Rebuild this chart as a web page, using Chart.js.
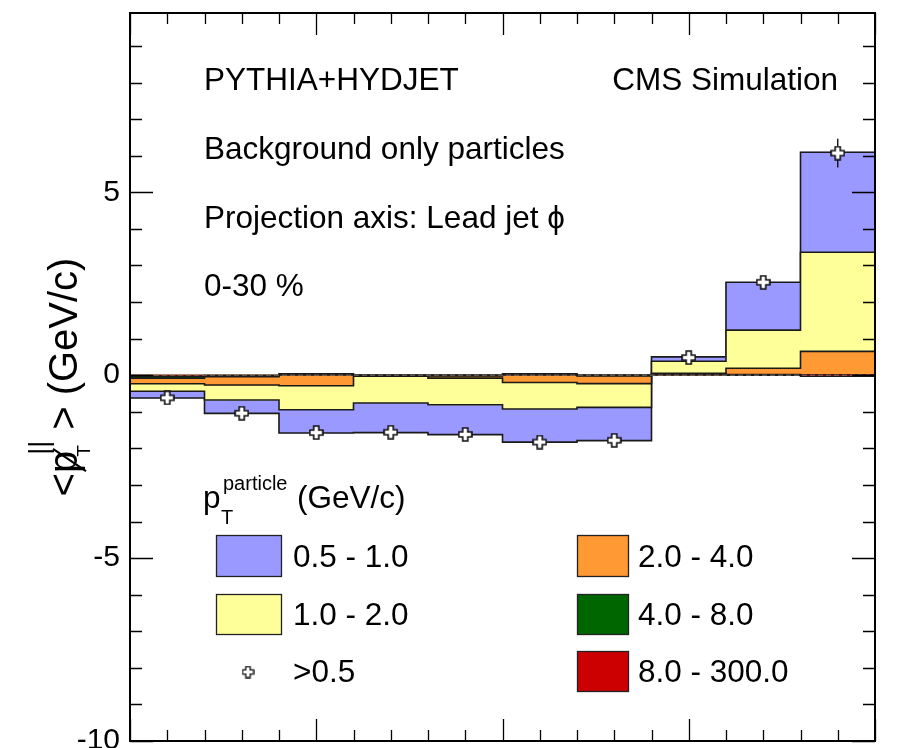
<!DOCTYPE html>
<html>
<head>
<meta charset="utf-8">
<title>Background-only pT balance vs. Delta R</title>
<script src="https://cdn.jsdelivr.net/npm/chart.js@4.4.1/dist/chart.umd.min.js"></script>
<style>
  html, body { margin: 0; padding: 0; background: #ffffff; overflow: hidden; }
  #c { display: block; }
</style>
</head>
<body>
<canvas id="c" width="902" height="748"></canvas>
<script>
// ---------------- data ----------------
// Delta R bin edges along the x axis
const binEdges = [0, 0.2, 0.4, 0.6, 0.8, 1.0, 1.2, 1.4, 1.6, 1.8, 2.0];

// contribution of each particle-pT class to <pT||> in every Delta R bin (GeV/c)
const pt05to1  = [-0.185, -0.365, -0.635, -0.81, -0.815, -0.905, -0.91, 0.12, 1.31, 2.735];
const pt1to2   = [-0.205, -0.41, -0.655, -0.73, -0.73, -0.725, -0.65, 0.35, 1.04, 2.71];
const pt2to4   = [-0.155, -0.23, -0.33, -0.02, -0.06, -0.24, -0.21, -0.02, 0.17, 0.64];
const pt4to8   = [-0.05, -0.03, 0.03, -0.01, -0.02, 0.03, -0.02, 0.04, 0.02, 0.04];
const pt8to300 = [-0.03, -0.01, 0.01, 0.0, 0.0, 0.01, 0.0, 0.01, 0.0, -0.03];

// all particles above 0.5 GeV/c, with statistical uncertainty
const ptAbove05    = [-0.62, -1.04, -1.57, -1.56, -1.62, -1.83, -1.78, 0.48, 2.54, 6.07];
const ptAbove05Err = [0.05, 0.06, 0.07, 0.07, 0.08, 0.08, 0.09, 0.10, 0.16, 0.39];

const classLabels = ['0.5 - 1.0', '1.0 - 2.0', '2.0 - 4.0', '4.0 - 8.0', '8.0 - 300.0'];
const totalLabel  = '>0.5';
const yTickLabels = [-10, -5, 0, 5];
const infoLines   = ['PYTHIA+HYDJET', 'Background only particles', 'Projection axis: Lead jet \u03d5', '0-30 %'];
const cmsLabel    = 'CMS Simulation';

// ---------------- styling ----------------
const classColors = ['#9999ff', '#ffff99', '#ff9933', '#006600', '#cc0000'];
const FONT = "'Liberation Sans', Arial, Helvetica, sans-serif";
const font = (px) => px + 'px ' + FONT;

// ---------------- derived tables ----------------
const classSeries = [pt05to1, pt1to2, pt2to4, pt4to8, pt8to300];
const binCenters = binEdges.slice(0, -1).map((e, j) => (e + binEdges[j + 1]) / 2);
// THStack-like cumulation: each class sits on the sum of all harder classes
const stackTops = classSeries.map((s, k) =>
  s.map((_, j) => classSeries.slice(k).reduce((acc, arr) => acc + arr[j], 0)));

// open-cross marker
function makeCross(size, lw) {
  const c = document.createElement('canvas');
  c.width = c.height = size;
  const g = c.getContext('2d');
  const m = size / 2, L = size / 2 - 1, a = size * 0.17;
  g.beginPath();
  g.moveTo(m - a, m - L); g.lineTo(m + a, m - L); g.lineTo(m + a, m - a);
  g.lineTo(m + L, m - a); g.lineTo(m + L, m + a); g.lineTo(m + a, m + a);
  g.lineTo(m + a, m + L); g.lineTo(m - a, m + L); g.lineTo(m - a, m + a);
  g.lineTo(m - L, m + a); g.lineTo(m - L, m - a); g.lineTo(m - a, m - a);
  g.closePath();
  g.fillStyle = '#ffffff'; g.fill();
  g.strokeStyle = '#111111'; g.lineWidth = lw; g.stroke();
  return c;
}
const crossMarker = makeCross(15, 1.6);
const crossLegend = makeCross(13, 1.3);

const barDatasets = classSeries.map((s, k) => ({
  type: 'bar',
  label: classLabels[k],
  data: binCenters.map((c, j) => ({ x: c, y: stackTops[k][j] })),
  backgroundColor: classColors[k],
  borderWidth: 0,
  stack: 'all',
  barThickness: 'flex',
  barPercentage: 1,
  categoryPercentage: 1,
  order: classSeries.length - 1 - k,
  stackIndex: k
}));

const totalDataset = {
  type: 'line',
  label: totalLabel,
  data: binCenters.map((c, j) => ({ x: c, y: ptAbove05[j] })),
  showLine: false,
  pointStyle: crossMarker,
  pointRadius: 6,
  order: -1,
  isTotal: true
};

// ---------------- plugins ----------------
// step outline of every cumulated histogram, drawn right after its fill
const histOutline = {
  id: 'histOutline',
  afterDatasetDraw(chart, args) {
    const ds = chart.data.datasets[args.index];
    if (ds.stackIndex === undefined) return;
    const tops = stackTops[ds.stackIndex];
    const xs = chart.scales.x, ys = chart.scales.y, ca = chart.chartArea, ctx = chart.ctx;
    ctx.save();
    ctx.beginPath(); ctx.rect(ca.left, ca.top, ca.width, ca.height); ctx.clip();
    const y0 = ys.getPixelForValue(0);
    ctx.beginPath();
    ctx.moveTo(xs.getPixelForValue(binEdges[0]), y0);
    tops.forEach((v, j) => {
      const py = ys.getPixelForValue(v);
      ctx.lineTo(xs.getPixelForValue(binEdges[j]), py);
      ctx.lineTo(xs.getPixelForValue(binEdges[j + 1]), py);
    });
    ctx.lineTo(xs.getPixelForValue(binEdges[binEdges.length - 1]), y0);
    ctx.strokeStyle = '#1a1a1a';
    ctx.lineWidth = 1.6;
    ctx.stroke();
    ctx.restore();
  },
  beforeDatasetDraw(chart, args) {
    const ds = chart.data.datasets[args.index];
    if (!ds.isTotal) return;
    const xs = chart.scales.x, ys = chart.scales.y, ca = chart.chartArea, ctx = chart.ctx;
    ctx.save();
    // dashed zero line
    const y0 = ys.getPixelForValue(0);
    ctx.setLineDash([5, 3]);
    ctx.strokeStyle = '#777777';
    ctx.lineWidth = 1;
    ctx.beginPath(); ctx.moveTo(ca.left, y0); ctx.lineTo(ca.right, y0); ctx.stroke();
    ctx.setLineDash([]);
    // error bars
    ctx.strokeStyle = '#111111';
    ctx.lineWidth = 1.4;
    ptAbove05.forEach((v, j) => {
      const px = xs.getPixelForValue(binCenters[j]);
      ctx.beginPath();
      ctx.moveTo(px, ys.getPixelForValue(v + ptAbove05Err[j]));
      ctx.lineTo(px, ys.getPixelForValue(v - ptAbove05Err[j]));
      ctx.stroke();
    });
    ctx.restore();
  }
};

// frame, inward ticks, labels and legend
const decorations = {
  id: 'decorations',
  afterDraw(chart) {
    const ctx = chart.ctx, ca = chart.chartArea, xs = chart.scales.x, ys = chart.scales.y;
    const isMult = (v, m) => Math.abs(v / m - Math.round(v / m)) < 1e-6;
    ctx.save();

    // ticks
    ctx.strokeStyle = '#000000';
    ctx.lineWidth = 1.3;
    ctx.beginPath();
    xs.ticks.forEach(t => {
      const px = Math.round(xs.getPixelForValue(t.value)) + 0.5;
      const len = isMult(t.value, 0.5) ? 22 : 11;
      ctx.moveTo(px, ca.top); ctx.lineTo(px, ca.top + len);
      ctx.moveTo(px, ca.bottom); ctx.lineTo(px, ca.bottom - len);
    });
    ys.ticks.forEach(t => {
      const py = Math.round(ys.getPixelForValue(t.value)) + 0.5;
      const len = isMult(t.value, 5) ? 23 : 12;
      ctx.moveTo(ca.left, py); ctx.lineTo(ca.left + len, py);
      ctx.moveTo(ca.right, py); ctx.lineTo(ca.right - len, py);
    });
    ctx.stroke();

    // frame
    ctx.lineWidth = 2;
    ctx.strokeRect(ca.left, ca.top, ca.width, ca.height);

    // annotation text
    ctx.fillStyle = '#000000';
    ctx.font = font(31.5);
    ctx.textBaseline = 'alphabetic';
    ctx.textAlign = 'left';
    infoLines.forEach((s, i) => ctx.fillText(s, 204, 90 + i * 68.8));
    ctx.textAlign = 'right';
    ctx.fillText(cmsLabel, 838, 90);
    ctx.textAlign = 'left';

    // legend title: p_T^particle (GeV/c)
    ctx.font = font(31.5);
    ctx.fillText('p', 203, 508);
    ctx.font = font(20);
    ctx.fillText('particle', 223, 490);
    ctx.fillText('T', 221, 524);
    ctx.font = font(31.5);
    ctx.fillText('(GeV/c)', 297, 508);

    // legend entries
    const boxes = [
      { x: 216, y: 535, w: 65, h: 41, tx: 293, ty: 567 },
      { x: 216, y: 594, w: 65, h: 40, tx: 293, ty: 625 },
      { x: 577, y: 535, w: 51, h: 41, tx: 638, ty: 567 },
      { x: 577, y: 594, w: 51, h: 40, tx: 638, ty: 625 },
      { x: 577, y: 651, w: 51, h: 40, tx: 638, ty: 682 }
    ];
    ctx.lineWidth = 1.3;
    ctx.strokeStyle = '#222222';
    boxes.forEach((b, k) => {
      ctx.fillStyle = classColors[k];
      ctx.fillRect(b.x, b.y, b.w, b.h);
      ctx.strokeRect(b.x + 0.5, b.y + 0.5, b.w, b.h);
      ctx.fillStyle = '#000000';
      ctx.font = font(31.5);
      ctx.fillText(classLabels[k], b.tx, b.ty);
    });
    ctx.drawImage(crossLegend, 248 - crossLegend.width / 2, 672 - crossLegend.height / 2);
    ctx.fillText(totalLabel, 293, 682);

    // y-axis title: <p_T^||> (GeV/c) with slashed p
    ctx.save();
    ctx.translate(77, 0);
    ctx.rotate(-Math.PI / 2);
    ctx.font = font(40);
    const wLt = ctx.measureText('<').width;
    const wP = ctx.measureText('p').width;
    const wGt = ctx.measureText('>').width;
    const wSp = ctx.measureText(' ').width;
    const wUnit = ctx.measureText('(GeV/c)').width;
    const scriptW = 19;
    const total = wLt + wP - 6 + scriptW + 8 + wGt + wSp + wUnit;
    let x = -(377 + total / 2);
    ctx.fillText('<', x, 0); x += wLt;
    ctx.fillText('p', x, 0);
    ctx.lineWidth = 2;
    ctx.strokeStyle = '#000000';
    ctx.beginPath();
    ctx.moveTo(x + 2, 9); ctx.lineTo(x + wP + 2, -24); ctx.stroke();
    x += wP - 6;
    ctx.font = font(27);
    ctx.fillText('||', x + 2, -29.5);
    ctx.font = font(19);
    ctx.fillText('T', x, 13);
    x += scriptW + 8;
    ctx.font = font(40);
    ctx.fillText('>', x, 0); x += wGt + wSp;
    ctx.fillText('(GeV/c)', x, 0);
    ctx.restore();

    ctx.restore();
  }
};

// ---------------- chart ----------------
new Chart(document.getElementById('c'), {
  type: 'bar',
  data: { datasets: [...barDatasets, totalDataset] },
  options: {
    responsive: false,
    animation: false,
    devicePixelRatio: 1,
    layout: { padding: { left: 0, right: 27, top: 13, bottom: 0 } },
    plugins: { legend: { display: false }, tooltip: { enabled: false } },
    scales: {
      x: {
        type: 'linear', min: 0, max: 2, offset: false,
        ticks: { display: false, stepSize: 0.1, includeBounds: false, autoSkip: false },
        grid: { display: false, drawTicks: false, tickLength: 0 },
        border: { display: false },
        afterFit: (s) => { s.height = 4; s.paddingLeft = 0; s.paddingRight = 0; }
      },
      y: {
        type: 'linear', min: -10, max: 9.9, stacked: false,
        ticks: {
          stepSize: 1, includeBounds: false, autoSkip: false, padding: 10, color: '#000000',
          font: { family: FONT, size: 30 },
          callback: (v) => yTickLabels.includes(v) ? String(v) : ''
        },
        grid: { display: false, drawTicks: false, tickLength: 0 },
        border: { display: false },
        afterFit: (s) => { s.width = 130; s.paddingTop = 0; s.paddingBottom = 0; }
      }
    }
  },
  plugins: [histOutline, decorations]
});
</script>
</body>
</html>
